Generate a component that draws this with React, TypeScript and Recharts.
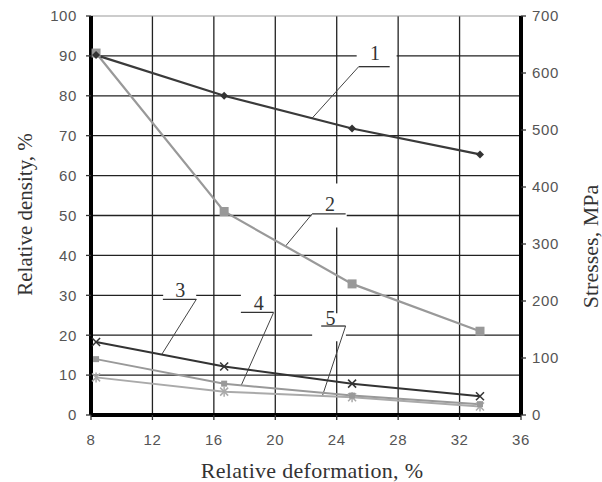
import React from 'react';
import {
  LineChart,
  Line,
  XAxis,
  YAxis,
  CartesianGrid,
  ReferenceLine,
  ReferenceArea,
  ReferenceDot,
} from 'recharts';

// Relative deformation, %
const deformation = [8.33, 16.67, 25, 33.33];
// Curve 1: relative density, %
const density1 = [90.2, 80, 71.8, 65.3];
// Curves 2-5: stresses, MPa
const stress2 = [635, 357, 230, 147];
const stress3 = [128, 85, 55, 33];
const stress4 = [98, 55, 34, 19];
const stress5 = [66, 41, 31, 15];

const xTicks = [8, 12, 16, 20, 24, 28, 32, 36];
const leftTicks = [0, 10, 20, 30, 40, 50, 60, 70, 80, 90, 100];
const rightTicks = [0, 100, 200, 300, 400, 500, 600, 700];
const gridRows = [10, 20, 30, 40, 50, 60, 70, 80, 90];

const data = deformation.map((d, i) => ({
  x: d,
  s1: density1[i],
  s2: stress2[i],
  s3: stress3[i],
  s4: stress4[i],
  s5: stress5[i],
}));

// callouts in data coordinates (x: deformation, y: left axis %)
const callouts = [
  { id: '1', text: [26.5, 90.8], under: [25.43, 27.45, 87.3], tip: [22.4, 74.4], fromRight: false, box: [25.3, 27.9, 88, 96] },
  { id: '2', text: [23.56, 52.8], under: [22.4, 24.58, 50.4], tip: [20.66, 42.3], fromRight: false, box: [22.35, 24.65, 47, 58] },
  { id: '3', text: [13.81, 31.4], under: [12.68, 14.86, 29.0], tip: [12.61, 15.2], fromRight: true, box: [12.7, 14.85, 29.3, 34.5] },
  { id: '4', text: [18.92, 28.1], under: [17.76, 19.89, 25.7], tip: [17.79, 7.5], fromRight: true, box: [17.76, 19.9, 26, 31] },
  { id: '5', text: [23.6, 24.3], under: [22.99, 24.58, 22.3], tip: [23.06, 4.7], fromRight: true, box: [22.4, 24.6, 18.5, 25.5] },
];

const serif = '"Liberation Serif", "Times New Roman", serif';
const sans = '"Liberation Sans", Arial, sans-serif';

const Diamond = (p: any) => {
  const { cx, cy } = p;
  if (cx == null || cy == null) return null;
  return <path d={`M${cx},${cy - 4}L${cx + 4},${cy}L${cx},${cy + 4}L${cx - 4},${cy}Z`} fill="#333" />;
};
const BigSquare = (p: any) => {
  const { cx, cy } = p;
  if (cx == null || cy == null) return null;
  return <rect x={cx - 4.5} y={cy - 4.5} width={9} height={9} fill="#999" />;
};
const Cross = (p: any) => {
  const { cx, cy } = p;
  if (cx == null || cy == null) return null;
  return (
    <g stroke="#333" strokeWidth={1.5}>
      <line x1={cx - 4} y1={cy - 4} x2={cx + 4} y2={cy + 4} />
      <line x1={cx - 4} y1={cy + 4} x2={cx + 4} y2={cy - 4} />
    </g>
  );
};
const SmallSquare = (p: any) => {
  const { cx, cy } = p;
  if (cx == null || cy == null) return null;
  return <rect x={cx - 3} y={cy - 3} width={6} height={6} fill="#999" />;
};
const Star = (p: any) => {
  const { cx, cy } = p;
  if (cx == null || cy == null) return null;
  return (
    <g stroke="#aaa" strokeWidth={1.5}>
      <line x1={cx - 4} y1={cy - 4} x2={cx + 4} y2={cy + 4} />
      <line x1={cx - 4} y1={cy + 4} x2={cx + 4} y2={cy - 4} />
      <line x1={cx} y1={cy - 5} x2={cx} y2={cy + 5} />
    </g>
  );
};

const LeftTitle = (props: any) => {
  const vb = props.viewBox || {};
  const cx = (vb.x ?? 0) + 25;
  const cy = (vb.y ?? 0) + (vb.height ?? 0) / 2 - 1;
  return (
    <text x={cx} y={cy} transform={`rotate(-90, ${cx}, ${cy})`} textAnchor="middle" dominantBaseline="central"
      fontFamily={serif} fontSize={21} fill="#333">
      Relative density, %
    </text>
  );
};
const RightTitle = (props: any) => {
  const vb = props.viewBox || {};
  const cx = (vb.x ?? 0) + 69;
  const cy = (vb.y ?? 0) + (vb.height ?? 0) / 2 + 31;
  return (
    <text x={cx} y={cy} transform={`rotate(-90, ${cx}, ${cy})`} textAnchor="middle" dominantBaseline="central"
      fontFamily={serif} fontSize={22} fill="#333">
      Stresses, MPa
    </text>
  );
};
const BottomTitle = (props: any) => {
  const vb = props.viewBox || {};
  const cx = (vb.x ?? 0) + (vb.width ?? 0) / 2 + 6;
  const cy = (vb.y ?? 0) + 55;
  return (
    <text x={cx} y={cy} textAnchor="middle" dominantBaseline="central" fontFamily={serif} fontSize={22} letterSpacing={0.3} fill="#333">
      Relative deformation, %
    </text>
  );
};

const tickStyle = { fontFamily: sans, fontSize: 15, fill: '#555', letterSpacing: 0.6 };

export default function App() {
  return (
    <div style={{ position: 'absolute', left: 0, top: 0, background: '#fff' }}>
      <LineChart width={602} height={482} data={data} margin={{ top: 16, right: 0, left: 0, bottom: 0 }}>
        <CartesianGrid
          stroke="#222"
          strokeWidth={1.3}
          horizontalValues={gridRows}
          verticalValues={[12, 16, 20, 24, 28, 32]}
          yAxisId="left"
        />
        <ReferenceLine yAxisId="left" y={100} stroke="#999" strokeWidth={1} />
        <XAxis
          dataKey="x"
          type="number"
          domain={[8, 36]}
          ticks={xTicks}
          height={67}
          axisLine={{ stroke: '#000', strokeWidth: 4 }}
          tickLine={{ stroke: '#333', strokeWidth: 1.3 }}
          tickSize={5}
          tick={tickStyle}
          tickMargin={14}
          allowDataOverflow
          label={<BottomTitle />}
        />
        <YAxis
          yAxisId="left"
          domain={[0, 100]}
          ticks={leftTicks}
          width={91}
          axisLine={{ stroke: '#000', strokeWidth: 4 }}
          tickLine={{ stroke: '#333', strokeWidth: 1.3 }}
          tickSize={5}
          tick={tickStyle}
          tickMargin={9}
          allowDataOverflow
          label={<LeftTitle />}
        />
        <YAxis
          yAxisId="right"
          orientation="right"
          domain={[0, 700]}
          ticks={rightTicks}
          width={81}
          axisLine={{ stroke: '#000', strokeWidth: 4 }}
          tickLine={{ stroke: '#333', strokeWidth: 1.3 }}
          tickSize={5}
          tick={tickStyle}
          tickMargin={6}
          allowDataOverflow
          label={<RightTitle />}
        />
        {callouts.map((c) => (
          <ReferenceArea
            key={'box' + c.id}
            yAxisId="left"
            x1={c.box[0]}
            x2={c.box[1]}
            y1={c.box[2]}
            y2={c.box[3]}
            fill="#fff"
            fillOpacity={1}
            stroke="none"
          />
        ))}
        {callouts.map((c) => (
          <ReferenceLine
            key={'u' + c.id}
            yAxisId="left"
            segment={[{ x: c.under[0], y: c.under[2] }, { x: c.under[1], y: c.under[2] }]}
            stroke="#333"
            strokeWidth={1.3}
          />
        ))}
        {callouts.map((c) => (
          <ReferenceLine
            key={'d' + c.id}
            yAxisId="left"
            segment={[
              { x: c.fromRight ? c.under[1] : c.under[0], y: c.under[2] },
              { x: c.tip[0], y: c.tip[1] },
            ]}
            stroke="#444"
            strokeWidth={1}
          />
        ))}
        {callouts.map((c) => (
          <ReferenceDot
            key={'t' + c.id}
            yAxisId="left"
            x={c.text[0]}
            y={c.text[1]}
            r={0}
            shape={(p: any) => (
              <text x={p.cx} y={p.cy} textAnchor="middle" dominantBaseline="central" fontFamily={serif} fontSize={20} fill="#333">
                {c.id}
              </text>
            )}
          />
        ))}
        <Line yAxisId="right" dataKey="s5" stroke="#aaa" strokeWidth={2} dot={<Star />} isAnimationActive={false} />
        <Line yAxisId="right" dataKey="s4" stroke="#999" strokeWidth={2} dot={<SmallSquare />} isAnimationActive={false} />
        <Line yAxisId="right" dataKey="s3" stroke="#333" strokeWidth={2} dot={<Cross />} isAnimationActive={false} />
        <Line yAxisId="right" dataKey="s2" stroke="#999" strokeWidth={2.2} dot={<BigSquare />} isAnimationActive={false} />
        <Line yAxisId="left" dataKey="s1" stroke="#3a3a3a" strokeWidth={2.2} dot={<Diamond />} isAnimationActive={false} />
      </LineChart>
    </div>
  );
}
